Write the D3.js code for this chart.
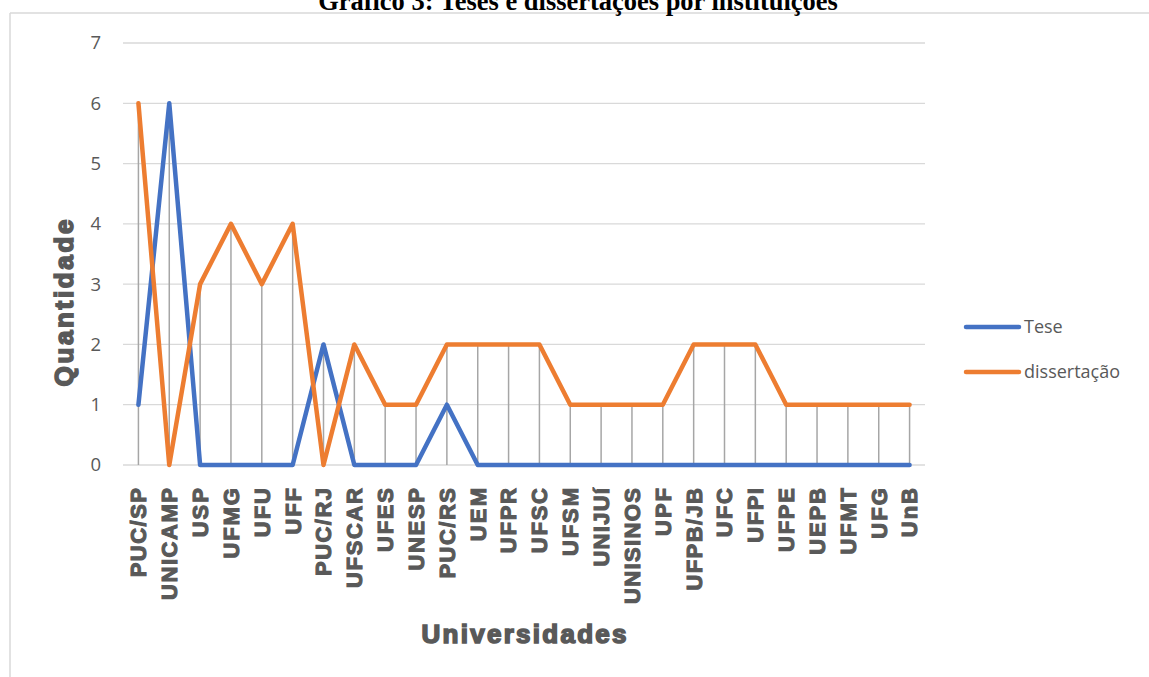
<!DOCTYPE html>
<html><head><meta charset="utf-8">
<script src="https://cdn.jsdelivr.net/npm/d3@7"></script>
<style>
html,body{margin:0;padding:0;background:#fff;}
svg{display:block;}
</style></head>
<body>
<svg id="c" width="1149" height="677"></svg>
<script>
const categories = ["PUC/SP","UNICAMP","USP","UFMG","UFU","UFF","PUC/RJ","UFSCAR","UFES","UNESP","PUC/RS","UEM","UFPR","UFSC","UFSM","UNIJUí","UNISINOS","UPF","UFPB/JB","UFC","UFPI","UFPE","UEPB","UFMT","UFG","UnB"];
const tese =        [1,6,0,0,0,0,2,0,0,0,1,0,0,0,0,0,0,0,0,0,0,0,0,0,0,0];
const dissertacao = [6,0,3,4,3,4,0,2,1,1,2,2,2,2,1,1,1,1,2,2,2,1,1,1,1,1];
const yTicks = [0,1,2,3,4,5,6,7];
const seriesNames = ["Tese","dissertação"];
const colors = ["#4472C4","#ED7D31"];
const titleText = "Gráfico 3: Teses e dissertações por instituições";
const xTitle = "Universidades";
const yTitle = "Quantidade";

const svg = d3.select("#c");
const gray = "#595959";

// frame
svg.append("line").attr("x1",10).attr("x2",1149).attr("y1",13).attr("y2",13).attr("stroke","#D9D9D9").attr("stroke-width",1.5);
svg.append("line").attr("x1",10).attr("x2",10).attr("y1",13).attr("y2",677).attr("stroke","#D9D9D9").attr("stroke-width",1.5);

// title
const tt = svg.append("text").attr("x",578).attr("y",9.5).attr("text-anchor","middle")
  .attr("font-family","'Liberation Serif','Times New Roman',serif").attr("font-weight","bold")
  .attr("font-size",20).attr("fill","#000").text(titleText);
{ const w = tt.node().getComputedTextLength(); tt.attr("font-size", 20*520/w); }

const x = d3.scaleBand().domain(categories).range([123,925]);
const y = d3.scaleLinear().domain([0,7]).range([465,43]);
const cx = d => x(d) + x.bandwidth()/2;

// gridlines
svg.append("g").selectAll("line").data(yTicks).join("line")
  .attr("x1",123).attr("x2",925).attr("y1",d=>y(d)).attr("y2",d=>y(d))
  .attr("stroke","#D9D9D9").attr("stroke-width",1.3);

// y tick labels
const yAxis = d3.axisLeft(y).tickValues(yTicks).tickSize(0).tickPadding(0).tickFormat(d3.format("d"));
const ya = svg.append("g").attr("transform","translate(101,0)").call(yAxis);
ya.select(".domain").remove();
ya.selectAll("text").attr("font-family","'Open Sans',sans-serif").attr("font-size",18.5).attr("fill",gray);

// drop lines
svg.append("g").selectAll("line").data(categories).join("line")
  .attr("x1",d=>cx(d)).attr("x2",d=>cx(d))
  .attr("y1",(d,i)=>y(Math.max(tese[i],dissertacao[i]))).attr("y2",y(0))
  .attr("stroke","#A6A6A6").attr("stroke-width",1.5);

// x labels
const xAxis = d3.axisBottom(x).tickSize(0).tickPadding(0);
const xa = svg.append("g").call(xAxis);
xa.select(".domain").remove();
xa.selectAll(".tick").attr("transform",d=>`translate(${cx(d)},488)`);
xa.selectAll("text").attr("transform","rotate(-90)").attr("x",0).attr("y",0).attr("dy","0.36em")
  .attr("text-anchor","end").attr("font-family","'Liberation Sans',Arial,sans-serif").attr("font-weight","bold")
  .attr("font-size",22).attr("fill",gray).attr("stroke",gray).attr("stroke-width",1.1)
  .each(function(){ const w=this.getComputedTextLength(); this.setAttribute("textLength", w*1.09); this.setAttribute("lengthAdjust","spacing"); });

// series lines
const line = d3.line().x((d,i)=>cx(categories[i])).y(d=>y(d));
[tese,dissertacao].forEach((s,k)=>{
  svg.append("path").datum(s).attr("d",line).attr("fill","none").attr("stroke",colors[k])
    .attr("stroke-width",4.5).attr("stroke-linejoin","round").attr("stroke-linecap","round");
});

// axis titles
svg.append("text").attr("x",524).attr("y",643).attr("text-anchor","middle")
  .attr("font-family","'Liberation Sans',Arial,sans-serif").attr("font-weight","bold").attr("font-size",26)
  .attr("fill",gray).attr("stroke",gray).attr("stroke-width",1.6).attr("textLength",205).attr("lengthAdjust","spacing").text(xTitle);
svg.append("text").attr("transform","translate(73,303) rotate(-90)").attr("text-anchor","middle")
  .attr("font-family","'Liberation Sans',Arial,sans-serif").attr("font-weight","bold").attr("font-size",26)
  .attr("fill",gray).attr("stroke",gray).attr("stroke-width",1.6).attr("textLength",167).attr("lengthAdjust","spacing").text(yTitle);

// legend
const lg = svg.append("g").selectAll("g").data(seriesNames).join("g")
  .attr("transform",(d,i)=>`translate(0,${327+i*45})`);
lg.append("line").attr("x1",966).attr("x2",1019).attr("stroke",(d,i)=>colors[i]).attr("stroke-width",4.5).attr("stroke-linecap","round");
lg.append("text").attr("x",1024).attr("dy","0.35em").attr("font-family","'Open Sans',sans-serif").attr("font-size",18)
  .attr("fill",gray).text(d=>d);
</script>
</body></html>
